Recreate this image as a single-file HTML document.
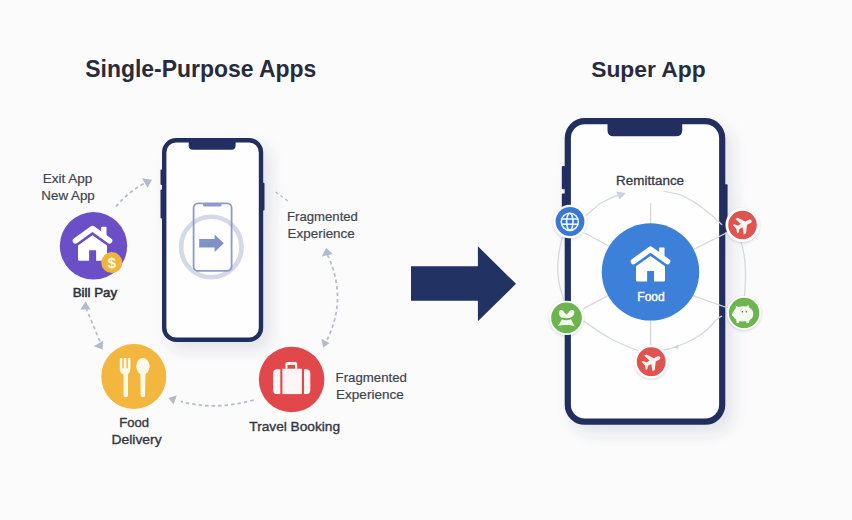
<!DOCTYPE html>
<html>
<head>
<meta charset="utf-8">
<style>
html,body{margin:0;padding:0;background:#fbfbfb;}
body{width:852px;height:520px;overflow:hidden;position:relative;font-family:"Liberation Sans",sans-serif;}
svg{position:absolute;left:0;top:0;}
text{font-family:"Liberation Sans",sans-serif;}
</style>
</head>
<body>
<svg width="852" height="520" viewBox="0 0 852 520">
<defs>
  <filter id="sh" x="-30%" y="-20%" width="160%" height="150%">
    <feGaussianBlur in="SourceAlpha" stdDeviation="7"/>
    <feOffset dx="7" dy="8" result="b"/>
    <feFlood flood-color="#3c4678" flood-opacity="0.13"/>
    <feComposite in2="b" operator="in"/>
    <feMerge><feMergeNode/><feMergeNode in="SourceGraphic"/></feMerge>
  </filter>
  <filter id="sh2" x="-30%" y="-30%" width="160%" height="160%">
    <feGaussianBlur in="SourceAlpha" stdDeviation="1.2"/>
    <feOffset dx="0" dy="0.5" result="b"/>
    <feFlood flood-color="#404a70" flood-opacity="0.25"/>
    <feComposite in2="b" operator="in"/>
    <feMerge><feMergeNode/><feMergeNode in="SourceGraphic"/></feMerge>
  </filter>
  <g id="house">
    <polyline points="-17,15.5 0,3.2 17,15.5" fill="none" stroke="#fff" stroke-width="5.6" stroke-linecap="round" stroke-linejoin="round"/>
    <rect x="8.6" y="1.5" width="5.4" height="10" rx="0.8" fill="#fff"/>
    <path d="M-14.5,20.3 L0,10 L14.5,20.3 L14.5,34 Q14.5,35.5 13,35.5 L3.6,35.5 L3.6,25 L-3.4,25 L-3.4,35.5 L-13,35.5 Q-14.5,35.5 -14.5,34 Z" fill="#fff"/>
  </g>
  <path id="plane" d="M10.2,0 C10.2,-1.3 9.2,-2 7.6,-2 L3.6,-2 L-1.6,-9.6 L-4.4,-9.6 L-1.8,-2 L-5.8,-2 L-8.2,-5 L-10.2,-5 L-8.8,-1 L-8.8,1 L-10.2,5 L-8.2,5 L-5.8,2 L-1.8,2 L-4.4,9.6 L-1.6,9.6 L3.6,2 L7.6,2 C9.2,2 10.2,1.3 10.2,0 Z"/>
</defs>

<!-- Titles -->
<text x="85.3" y="77" font-size="23" font-weight="bold" fill="#272b3d" textLength="231" lengthAdjust="spacingAndGlyphs">Single-Purpose Apps</text>
<text x="591.2" y="77.1" font-size="22.5" font-weight="bold" fill="#272b3d" textLength="114.5" lengthAdjust="spacingAndGlyphs">Super App</text>

<!-- ============ LEFT PHONE ============ -->
<g filter="url(#sh)">
  <rect x="160.5" y="169.4" width="3" height="15.5" rx="1" fill="#232f61"/>
  <rect x="160.5" y="189.6" width="3" height="29" rx="1" fill="#232f61"/>
  <rect x="261.5" y="182.8" width="3" height="27.6" rx="1" fill="#232f61"/>
  <rect x="164.2" y="140.2" width="96.8" height="199.6" rx="12" fill="#fefefe" stroke="#232f61" stroke-width="4.4"/>
  <path d="M188.7,140 H235.6 V145.5 Q235.6,149.8 231.3,149.8 H193 Q188.7,149.8 188.7,145.5 Z" fill="#232f61"/>
</g>
<!-- inner icon -->
<circle cx="211.3" cy="247" r="30.2" fill="none" stroke="#d4d9e8" stroke-width="4.6"/>
<rect x="193.6" y="203.4" width="38" height="67.5" rx="4.5" fill="none" stroke="#8e9bc6" stroke-width="1.8"/>
<path d="M203,203.5 H221.5 V205 Q221.5,206.6 219.9,206.6 H204.6 Q203,206.6 203,205 Z" fill="#8e9bc6"/>
<path d="M199.2,239 H214.6 V234.6 L223.8,243.2 L214.6,252 V247.4 H199.2 Z" fill="#8093c6"/>

<!-- ============ LEFT FLOW ============ -->
<!-- Bill Pay -->
<circle cx="93.5" cy="245.8" r="33.7" fill="#6b4fc6"/>
<use href="#house" transform="translate(92.5,225.3)"/>
<circle cx="111.8" cy="262.6" r="10.5" fill="#f1b43d"/>
<text x="111.9" y="268" font-size="15.5" font-weight="bold" fill="#fffbe8" text-anchor="middle">$</text>

<!-- Food delivery -->
<circle cx="133.8" cy="376.5" r="32.5" fill="#f3b63e"/>
<g fill="#fff9ea">
  <path d="M119.8,358.4 Q119.8,358 120.6,358 L121.6,358 Q122.3,358 122.3,358.6 V368.3 H123.7 V358.6 Q123.7,358 124.4,358 L125.7,358 Q126.4,358 126.4,358.6 V368.3 H127.8 V358.6 Q127.8,358 128.5,358 L129.6,358 Q130.4,358 130.4,358.6 V369 Q130.4,373 128,374.6 L128,395.3 Q128,397.3 125.75,397.3 Q123.5,397.3 123.5,395.3 L123.5,374.6 Q119.8,373 119.8,369 Z"/>
  <ellipse cx="142.9" cy="366.3" rx="6.7" ry="8.3"/>
  <path d="M140.3,372 L145.5,372 L145.1,395.3 Q145.1,397.3 142.9,397.3 Q140.7,397.3 140.7,395.3 Z"/>
</g>

<!-- Travel booking -->
<circle cx="291.6" cy="379.5" r="32.8" fill="#e2474b"/>
<g fill="#fff5f5">
  <path d="M285.4,368.8 V364 Q285.4,361.9 287.5,361.9 H295.1 Q297.2,361.9 297.2,364 V368.8 H295.1 V364.9 H287.5 V368.8 Z"/>
  <path d="M280.3,369.3 V394.1 H277.3 Q273.1,394.1 273.1,389.9 V373.5 Q273.1,369.3 277.3,369.3 Z"/>
  <rect x="282.4" y="368.7" width="19.5" height="25.4"/>
  <path d="M304,369.3 V394.1 H306.1 Q310.3,394.1 310.3,389.9 V373.5 Q310.3,369.3 306.1,369.3 Z"/>
</g>

<!-- Labels left -->
<g font-size="13.3" fill="#41444f" stroke="#41444f" stroke-width="0.2">
  <text x="42.7" y="183.3" textLength="49.7" lengthAdjust="spacingAndGlyphs">Exit App</text>
  <text x="41.3" y="200.2" textLength="53.5" lengthAdjust="spacingAndGlyphs">New App</text>
  <text x="287.1" y="220.6" textLength="70.8" lengthAdjust="spacingAndGlyphs">Fragmented</text>
  <text x="287.5" y="237.5" textLength="67.3" lengthAdjust="spacingAndGlyphs">Experience</text>
  <text x="335.6" y="381.7" textLength="71.3" lengthAdjust="spacingAndGlyphs">Fragmented</text>
  <text x="336.1" y="398.6" textLength="67.6" lengthAdjust="spacingAndGlyphs">Experience</text>
</g>
<g font-size="13.2" fill="#2e3140" stroke="#2e3140" stroke-width="0.55">
  <text x="72.7" y="297.4" textLength="44.4" lengthAdjust="spacingAndGlyphs">Bill Pay</text>
</g>
<g font-size="13.2" fill="#333644" stroke="#333644" stroke-width="0.35">
  <text x="119.3" y="427.3" textLength="29.8" lengthAdjust="spacingAndGlyphs">Food</text>
  <text x="111.5" y="443.9" textLength="50.1" lengthAdjust="spacingAndGlyphs">Delivery</text>
  <text x="249.3" y="431.3" textLength="90.8" lengthAdjust="spacingAndGlyphs">Travel Booking</text>
</g>

<!-- dashed arrows -->
<g fill="none" stroke="#b7bdca" stroke-width="1.8" stroke-dasharray="3.5 3">
  <path d="M116,206.5 Q128,192 144,183.5"/>
  <path d="M86,308 L101,344"/>
  <path d="M327.5,255 Q348,298 326.5,341"/>
  <path d="M253.6,400 Q215,411 180.7,401.3"/>
</g>
<path d="M275.6,191.9 L289.8,202.5" fill="none" stroke="#b5bcca" stroke-width="1.3" stroke-dasharray="3 3"/>
<g fill="#b3bbca">
  <path d="M152,179.8 L141.9,178.3 L147.7,187.8 Z"/>
  <path d="M85.5,301.6 L80.3,309.6 L90.6,309.4 Z"/>
  <path d="M102.6,349.6 L93.8,346.3 L103,340.8 Z"/>
  <path d="M326,247.8 L332.8,254 L321.8,256.5 Z"/>
  <path d="M323.2,347.8 L329.6,343.1 L321.3,338.7 Z"/>
  <path d="M168.4,398 L176.8,395.2 L173.6,404.5 Z"/>
</g>

<!-- Big arrow -->
<path d="M411,266.2 H477.9 V246.3 L516,283.8 L477.9,321.3 V300.8 H411 Z" fill="#223262"/>

<!-- ============ RIGHT PHONE ============ -->
<g filter="url(#sh)">
  <rect x="561.8" y="165.9" width="4" height="23.3" rx="1" fill="#232f61"/>
  <rect x="561.8" y="193.4" width="4" height="40" rx="1" fill="#232f61"/>
  <rect x="724" y="184.3" width="3.6" height="48" rx="1" fill="#232f61"/>
  <rect x="567.8" y="121.1" width="154.4" height="300.6" rx="17" fill="#fefefe" stroke="#232f61" stroke-width="6.2"/>
  <path d="M607.5,121 H682.2 V130.2 Q682.2,136.3 676.1,136.3 H613.6 Q607.5,136.3 607.5,130.2 Z" fill="#232f61"/>
</g>

<!-- ring & spokes -->
<g fill="none" stroke="#d6d9e0" stroke-width="1.3">
<path d="M663.7,191.1 C666.2,191.7 674.0,192.7 679.0,194.4 C684.0,196.2 689.0,198.9 693.5,201.6 C698.0,204.3 702.0,207.7 706.0,210.8 C710.0,213.9 714.8,218.0 717.5,220.4 C720.2,222.8 721.2,224.2 722.0,225.0"/>
<path d="M738.0,238.0 C738.5,238.7 739.9,238.7 741.0,242.0 C742.1,245.3 743.8,253.0 744.5,258.0 C745.2,263.0 745.4,266.7 745.5,272.0 C745.6,277.3 745.2,285.7 745.0,290.0 C744.8,294.3 744.2,296.7 744.0,298.0"/>
<path d="M722.0,316.0 C721.2,316.5 719.8,316.6 717.1,319.0 C714.5,321.4 710.2,327.1 706.1,330.6 C702.0,334.1 697.3,337.1 692.3,339.8 C687.3,342.5 680.5,345.1 676.1,346.7 C671.7,348.3 669.3,348.9 665.8,349.6 C662.3,350.3 656.8,350.8 655.0,351.0"/>
<path d="M645.0,351.0 C643.6,350.8 642.4,352.1 636.6,350.0 C630.8,347.9 618.6,343.0 610.0,338.3 C601.4,333.6 590.0,325.3 584.7,321.9 C579.4,318.5 579.1,318.6 578.0,318.0"/>
<path d="M564.0,305.0 C563.9,304.0 564.2,302.5 563.5,299.2 C562.8,295.9 560.5,289.9 559.5,285.0 C558.5,280.1 557.7,275.2 557.6,270.0 C557.5,264.8 558.1,259.1 558.8,254.0 C559.5,248.9 561.0,242.7 561.9,239.2 C562.8,235.7 563.6,234.0 564.0,233.0"/>
<path d="M583.0,218.0 C583.8,217.4 585.0,216.5 587.7,214.2 C590.4,211.9 595.4,206.9 599.2,204.2 C603.1,201.5 607.6,199.6 610.8,198.1 C614.0,196.6 617.2,195.5 618.5,195.0"/>
  <line x1="650.6" y1="203" x2="650.6" y2="224"/>
  <line x1="650.6" y1="320" x2="650.6" y2="346"/>
  <line x1="584.8" y1="233" x2="609" y2="246.3"/>
  <line x1="693.9" y1="249.3" x2="726.2" y2="233"/>
  <line x1="583" y1="308.9" x2="608" y2="295.6"/>
  <line x1="693" y1="295.6" x2="728" y2="308"/>
</g>
<path d="M625.8,193.1 L616.2,191.5 L619.6,199.6 Z" fill="#ccd0d9"/>
<path d="M673.2,347.4 L678.5,344.2 L678.3,349 Z" fill="#d2d5dd"/>

<!-- hub -->
<circle cx="650.5" cy="271.9" r="48.7" fill="#3d80d9"/>
<use href="#house" transform="translate(650.5,246)"/>
<text x="637.3" y="301.3" font-size="12" fill="#fff" stroke="#fff" stroke-width="0.4" textLength="27.5" lengthAdjust="spacingAndGlyphs">Food</text>

<!-- Remittance -->
<text x="616.1" y="184.5" font-size="12.6" fill="#363a48" stroke="#363a48" stroke-width="0.3" textLength="68" lengthAdjust="spacingAndGlyphs">Remittance</text>

<!-- satellite icons -->
<g filter="url(#sh2)">
  <circle cx="570" cy="221.5" r="16.8" fill="#fff"/>
  <circle cx="742.5" cy="225" r="17" fill="#fff"/>
  <circle cx="744.1" cy="312.9" r="17" fill="#fff"/>
  <circle cx="566.5" cy="317.9" r="17.2" fill="#fff"/>
  <circle cx="651.2" cy="361.7" r="16.8" fill="#fff"/>
</g>
<circle cx="570" cy="221.5" r="14.4" fill="#3b78d2"/>
<g fill="none" stroke="#eaf5ff" stroke-width="1.6">
  <circle cx="569.8" cy="221.8" r="8.6"/>
  <ellipse cx="569.8" cy="221.8" rx="3.2" ry="8.6"/>
  <line x1="561.5" y1="219" x2="578.1" y2="219"/>
  <line x1="561.5" y1="224.2" x2="578.1" y2="224.2"/>
</g>
<circle cx="742.5" cy="225" r="14.3" fill="#e0544f"/>
<use href="#plane" fill="#fff3f2" transform="translate(743.2,224.8) rotate(-28) scale(0.92)"/>
<circle cx="651.2" cy="361.7" r="14.4" fill="#e0544f"/>
<use href="#plane" fill="#fff3f2" transform="translate(651.9,361.5) rotate(-28) scale(0.92)"/>
<circle cx="744.1" cy="312.9" r="15.2" fill="#6db54f"/>
<g fill="#f5fcef">
  <path d="M733.5,311.5 Q734.5,309 736,308 L735.6,305.8 L738.8,307 Q742,305.8 746.5,306.5 L748.5,304.8 L749,307.5 Q753.5,309.5 753.2,314.5 Q753,318.5 749.5,320 L749,323 L746.5,323 L746,321 Q742,321.8 739.5,321 L738.8,323 L736.5,323 L736.3,319.5 Q734,318 733,316 L732,315.5 Q731.8,313 733.5,311.5 Z"/>
</g>
<circle cx="742.4" cy="311.8" r="0.8" fill="#4a5a45"/>
<circle cx="746.3" cy="311.8" r="0.8" fill="#4a5a45"/>
<circle cx="566.5" cy="317.9" r="15.3" fill="#6db54f"/>
<g fill="#f5fcef">
  <path d="M559.2,311.5 C559.8,309.6 562.4,309.6 563.7,311.6 C564.6,313 565.5,314.2 566.4,314.2 C567.3,314.2 568.5,312.5 569.5,311.2 C570.8,309.5 573.9,309.5 574.3,311.3 C574.7,313.5 573.5,316.2 571.3,317.3 C568.5,318.5 564.2,318.5 561.3,317.5 C559.3,316.4 558.6,313.5 559.2,311.5 Z"/>
  <path d="M562,319.4 C565,320.4 568,320.4 571,319.2 C572,321.5 573.5,324 574.6,326.3 C571.5,325.2 568.5,324.7 566.3,325 C564,324.7 561,325.2 557.8,325.9 C559.3,323.8 560.8,321.5 562,319.4 Z"/>
</g>
</svg>
</body>
</html>
